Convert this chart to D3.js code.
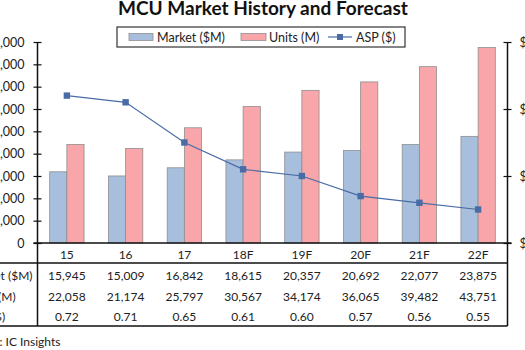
<!DOCTYPE html>
<html>
<head>
<meta charset="utf-8">
<script src="https://cdn.jsdelivr.net/npm/d3@7"></script>
<style>
  html, body { margin: 0; padding: 0; background: #fff; overflow: hidden; }
  svg { display: block; font-family: Lato, "Open Sans", sans-serif; }
</style>
</head>
<body>
<svg id="chart" width="525" height="350"></svg>
<script>
// MCU market data, 2015 to 2022 (F = forecast)
const categories = ["15", "16", "17", "18F", "19F", "20F", "21F", "22F"];
const marketValues = [15945, 15009, 16842, 18615, 20357, 20692, 22077, 23875];
const unitValues = [22058, 21174, 25797, 30567, 34174, 36065, 39482, 43751];
const aspValues = [0.72, 0.71, 0.65, 0.61, 0.60, 0.57, 0.56, 0.55];
const leftTicks = [0, 5000, 10000, 15000, 20000, 25000, 30000, 35000, 40000, 45000];
const rightTicks = [0.5, 0.6, 0.7, 0.8];
const seriesNames = ["Market ($M)", "Units (M)", "ASP ($)"];
const tableRowLabels = ["Market ($M)", "Units (M)", "ASP ($)"];
const titleText = "MCU Market History and Forecast";
const sourceText = "Source: IC Insights";

const svg = d3.select("#chart");
const colors = { market: "#a7bedc", units: "#f8a6a9", asp: "#4a6ca6", barStroke: "#8f8f8f" };

const plot = { left: 37.5, right: 507.5, top: 42, bottom: 243 };

const x = d3.scaleBand().domain(categories).range([plot.left, plot.right]).padding(0);
const yLeft = d3.scaleLinear().domain([0, 45000]).range([plot.bottom, plot.top]);
const yRight = d3.scaleLinear().domain([0.5, 0.8]).range([plot.bottom, plot.top]);
const groupWidth = x.bandwidth() * 0.585;
const xSub = d3.scaleBand().domain(["market", "units"]).range([-groupWidth / 2, groupWidth / 2]).padding(0);

// Title, sized to its line width
const title = svg.append("text")
  .attr("x", 263).attr("y", 15)
  .attr("text-anchor", "middle")
  .attr("font-weight", "bold")
  .attr("font-size", 18)
  .attr("fill", "#111")
  .text(titleText);
const tw = title.node().getComputedTextLength();
title.attr("font-size", 18 * 290 / tw);

// Bars
const cols = categories.map((c, i) => ({ c, market: marketValues[i], units: unitValues[i] }));
const groups = svg.append("g").selectAll("g").data(cols).join("g")
  .attr("transform", d => `translate(${x(d.c) + x.bandwidth() / 2},0)`);
groups.append("rect")
  .attr("x", xSub("market")).attr("width", xSub.bandwidth())
  .attr("y", d => yLeft(d.market)).attr("height", d => yLeft(0) - yLeft(d.market))
  .attr("fill", colors.market).attr("stroke", colors.barStroke).attr("stroke-width", 0.8);
groups.append("rect")
  .attr("x", xSub("units")).attr("width", xSub.bandwidth())
  .attr("y", d => yLeft(d.units)).attr("height", d => yLeft(0) - yLeft(d.units))
  .attr("fill", colors.units).attr("stroke", colors.barStroke).attr("stroke-width", 0.8);

// ASP line with square markers
const aspPts = categories.map((c, i) => [x(c) + x.bandwidth() / 2, yRight(aspValues[i])]);
svg.append("path")
  .attr("d", d3.line()(aspPts))
  .attr("fill", "none").attr("stroke", colors.asp).attr("stroke-width", 1.2);
svg.append("g").selectAll("rect").data(aspPts).join("rect")
  .attr("x", d => d[0] - 3.2).attr("y", d => d[1] - 3.2)
  .attr("width", 6.4).attr("height", 6.4)
  .attr("fill", colors.asp);

// Left axis with cross tick marks
const leftAxis = svg.append("g").attr("transform", `translate(${plot.left},0)`)
  .call(d3.axisLeft(yLeft).tickValues(leftTicks).tickFormat(d3.format(",")).tickSize(4).tickPadding(9));
leftAxis.select(".domain").remove();
leftAxis.selectAll(".tick line").attr("x1", 4).attr("x2", -4).attr("stroke", "#111").attr("stroke-width", 1.2);
leftAxis.selectAll(".tick text").attr("font-size", 12.5).attr("fill", "#222").attr("font-family", "Lato, sans-serif");
svg.append("line").attr("x1", plot.left).attr("x2", plot.left).attr("y1", plot.top).attr("y2", 326)
  .attr("stroke", "#111").attr("stroke-width", 1.5);

// Right axis
const rightAxis = svg.append("g").attr("transform", `translate(${plot.right},0)`)
  .call(d3.axisRight(yRight).tickValues(rightTicks).tickFormat(d3.format("$.2f")).tickSize(4).tickPadding(8));
rightAxis.select(".domain").remove();
rightAxis.selectAll(".tick line").attr("x1", -4).attr("x2", 4).attr("stroke", "#111").attr("stroke-width", 1.2);
rightAxis.selectAll(".tick text").attr("font-size", 12.5).attr("fill", "#222").attr("font-family", "Lato, sans-serif");
svg.append("line").attr("x1", plot.right).attr("x2", plot.right).attr("y1", plot.top).attr("y2", 326)
  .attr("stroke", "#111").attr("stroke-width", 1.5);

// Category axis baseline
svg.append("line").attr("x1", plot.left - 4).attr("x2", plot.right + 4)
  .attr("y1", plot.bottom).attr("y2", plot.bottom)
  .attr("stroke", "#111").attr("stroke-width", 1.6);

// Data table beneath the plot
const rowLine1 = 263, rowLine2 = 326;
svg.append("line").attr("x1", -5).attr("x2", plot.right).attr("y1", rowLine1).attr("y2", rowLine1)
  .attr("stroke", "#111").attr("stroke-width", 1.4);
svg.append("line").attr("x1", -5).attr("x2", plot.right).attr("y1", rowLine2).attr("y2", rowLine2)
  .attr("stroke", "#111").attr("stroke-width", 1.4);

svg.append("g").selectAll("text").data(categories).join("text")
  .attr("x", d => x(d) + x.bandwidth() / 2).attr("y", 259)
  .attr("text-anchor", "middle").attr("font-size", 12).attr("fill", "#222")
  .text(d => d);

// Row labels share a common left edge; the longest one ends just before the axis
const rowBaselines = [280, 301, 321];
const rowData = [
  marketValues.map(d3.format(",")),
  unitValues.map(d3.format(",")),
  aspValues.map(d3.format(".2f"))
];
const rowLabelNodes = [];
rowData.forEach((vals, r) => {
  svg.append("g").selectAll("text").data(vals).join("text")
    .attr("x", (d, i) => x(categories[i]) + x.bandwidth() / 2).attr("y", rowBaselines[r])
    .attr("text-anchor", "middle").attr("font-size", 12).attr("fill", "#222")
    .text(d => d);
  rowLabelNodes.push(svg.append("text").attr("y", rowBaselines[r])
    .attr("font-size", 12).attr("fill", "#222")
    .text(tableRowLabels[r]));
});
const firstLabelWidth = rowLabelNodes[0].node().getComputedTextLength();
rowLabelNodes.forEach(t => t.attr("x", 32.5 - firstLabelWidth));

// Source note
const src = svg.append("text").attr("y", 346).attr("font-size", 12).attr("fill", "#222").text(sourceText);
const srcPrefix = src.node().getSubStringLength(0, sourceText.indexOf(":"));
src.attr("x", -0.5 - srcPrefix);

// Legend
const legend = svg.append("g");
legend.append("rect").attr("x", 117).attr("y", 27).attr("width", 288).attr("height", 20)
  .attr("fill", "#fff").attr("stroke", "#333").attr("stroke-width", 1.2);
legend.append("rect").attr("x", 129).attr("y", 33.5).attr("width", 24).attr("height", 7)
  .attr("fill", colors.market).attr("stroke", colors.barStroke).attr("stroke-width", 0.8);
legend.append("text").attr("x", 157).attr("y", 42).attr("font-size", 12.5).attr("fill", "#222").text(seriesNames[0]);
legend.append("rect").attr("x", 241).attr("y", 33.5).attr("width", 25).attr("height", 7)
  .attr("fill", colors.units).attr("stroke", colors.barStroke).attr("stroke-width", 0.8);
legend.append("text").attr("x", 269).attr("y", 42).attr("font-size", 12.5).attr("fill", "#222").text(seriesNames[1]);
legend.append("line").attr("x1", 328).attr("x2", 352).attr("y1", 37).attr("y2", 37)
  .attr("stroke", colors.asp).attr("stroke-width", 1.2);
legend.append("rect").attr("x", 337).attr("y", 34).attr("width", 6).attr("height", 6).attr("fill", colors.asp);
legend.append("text").attr("x", 356).attr("y", 42).attr("font-size", 12.5).attr("fill", "#222").text(seriesNames[2]);
</script>
</body>
</html>
